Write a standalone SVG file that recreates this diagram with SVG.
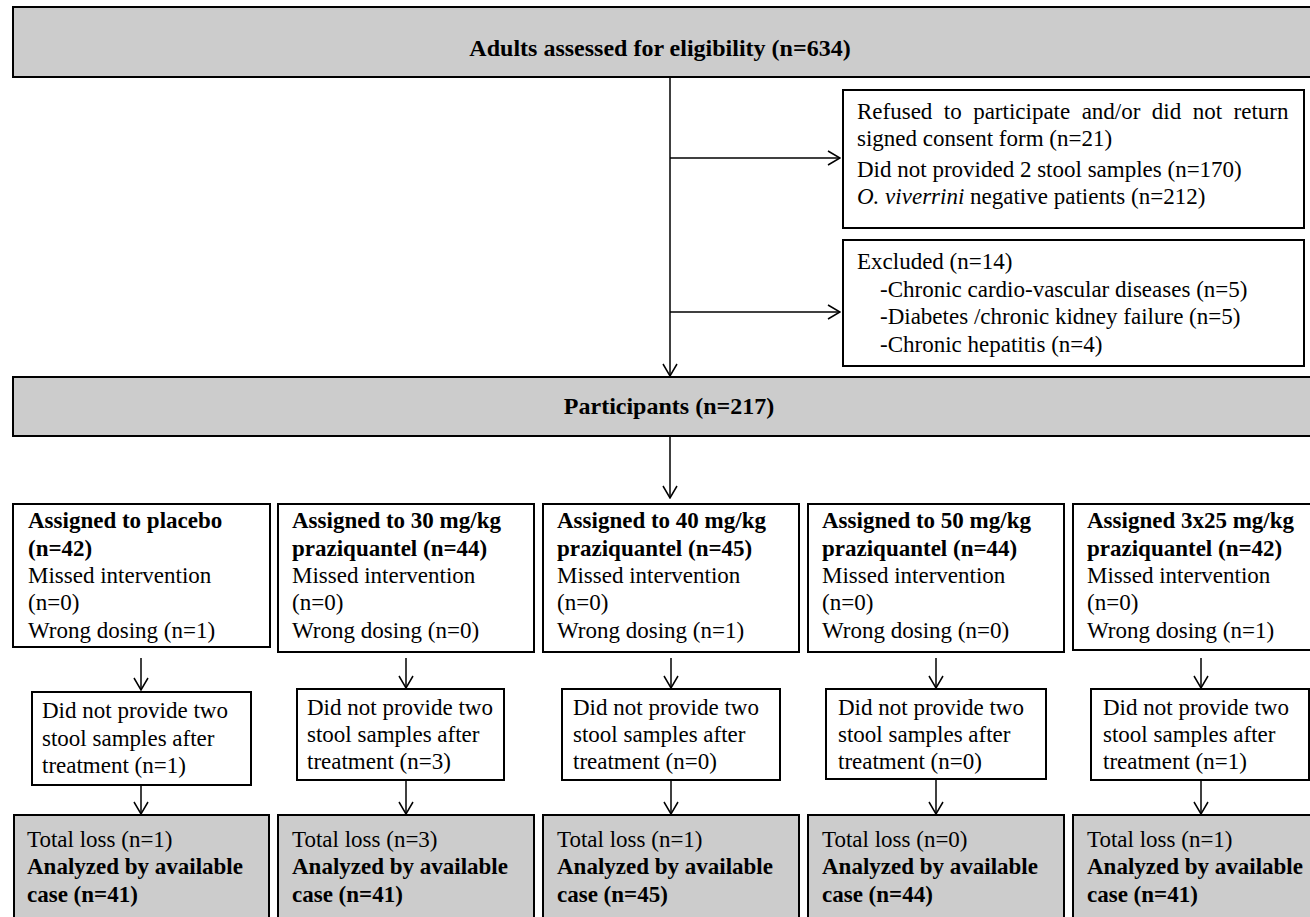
<svg xmlns="http://www.w3.org/2000/svg" width="1310" height="917" viewBox="0 0 1310 917">
<defs>
<style>
.box{fill:#ffffff;stroke:#000;stroke-width:2}
.gbox{fill:#cccccc;stroke:#000;stroke-width:2}
text{font-family:"Liberation Serif","Times New Roman",serif;font-size:23px;fill:#000}
.b{font-weight:bold}
.c{text-anchor:middle}
.h{font-size:24px}
.ln{stroke:#000;stroke-width:1.5;fill:none}
</style>
<marker id="ah" viewBox="0 0 14 16" refX="13" refY="8" markerWidth="14" markerHeight="16" markerUnits="userSpaceOnUse" orient="auto">
<path d="M1,1 L13,8 L1,15" fill="none" stroke="#000" stroke-width="1.5"/>
</marker>
</defs>
<rect width="1310" height="917" fill="#ffffff"/>

<g id="connectors">
<line class="ln" x1="670" y1="77" x2="670" y2="376" marker-end="url(#ah)"/>
<line class="ln" x1="670" y1="158" x2="840" y2="158" marker-end="url(#ah)"/>
<line class="ln" x1="670" y1="312" x2="840" y2="312" marker-end="url(#ah)"/>
<line class="ln" x1="670" y1="437" x2="670" y2="498" marker-end="url(#ah)"/>
<line class="ln" x1="141" y1="658" x2="141" y2="690" marker-end="url(#ah)"/>
<line class="ln" x1="406" y1="658" x2="406" y2="688" marker-end="url(#ah)"/>
<line class="ln" x1="671" y1="658" x2="671" y2="688" marker-end="url(#ah)"/>
<line class="ln" x1="936" y1="658" x2="936" y2="688" marker-end="url(#ah)"/>
<line class="ln" x1="1201" y1="658" x2="1201" y2="688" marker-end="url(#ah)"/>
<line class="ln" x1="141" y1="785" x2="141" y2="814" marker-end="url(#ah)"/>
<line class="ln" x1="406" y1="780" x2="406" y2="814" marker-end="url(#ah)"/>
<line class="ln" x1="671" y1="780" x2="671" y2="814" marker-end="url(#ah)"/>
<line class="ln" x1="936" y1="779" x2="936" y2="814" marker-end="url(#ah)"/>
<line class="ln" x1="1201" y1="780" x2="1201" y2="814" marker-end="url(#ah)"/>
</g>

<g id="n-assessed">
<rect class="gbox" x="13" y="7" width="1310" height="70"/>
<text class="b c h" x="660" y="56">Adults assessed for eligibility (n=634)</text>
</g>

<g id="n-refused">
<rect class="box" x="843" y="90" width="461" height="138"/>
<text x="857" y="119" word-spacing="5.7">Refused to participate and/or did not return</text>
<text x="857" y="146">signed consent form (n=21)</text>
<text x="857" y="177">Did not provided 2 stool samples (n=170)</text>
<text x="857" y="204"><tspan font-style="italic">O. viverrini</tspan> negative patients (n=212)</text>
</g>

<g id="n-excluded">
<rect class="box" x="843" y="240" width="461" height="126"/>
<text x="857" y="269">Excluded (n=14)</text>
<text x="880" y="297">-Chronic cardio-vascular diseases (n=5)</text>
<text x="880" y="324">-Diabetes /chronic kidney failure (n=5)</text>
<text x="880" y="352">-Chronic hepatitis (n=4)</text>
</g>

<g id="n-participants">
<rect class="gbox" x="13" y="377" width="1310" height="59"/>
<text class="b c h" x="669" y="414">Participants (n=217)</text>
</g>

<g id="n-a1">
<rect class="box" x="13" y="504" width="257" height="143"/>
<text class="b" x="28" y="528">Assigned to placebo</text>
<text class="b" x="28" y="556">(n=42)</text>
<text x="28" y="583">Missed intervention</text>
<text x="28" y="610">(n=0)</text>
<text x="28" y="638">Wrong dosing (n=1)</text>
</g>
<g id="n-a2">
<rect class="box" x="278" y="504" width="256" height="148"/>
<text class="b" x="292" y="528">Assigned to 30 mg/kg</text>
<text class="b" x="292" y="556">praziquantel (n=44)</text>
<text x="292" y="583">Missed intervention</text>
<text x="292" y="610">(n=0)</text>
<text x="292" y="638">Wrong dosing (n=0)</text>
</g>
<g id="n-a3">
<rect class="box" x="543" y="504" width="256" height="148"/>
<text class="b" x="557" y="528">Assigned to 40 mg/kg</text>
<text class="b" x="557" y="556">praziquantel (n=45)</text>
<text x="557" y="583">Missed intervention</text>
<text x="557" y="610">(n=0)</text>
<text x="557" y="638">Wrong dosing (n=1)</text>
</g>
<g id="n-a4">
<rect class="box" x="808" y="504" width="256" height="148"/>
<text class="b" x="822" y="528">Assigned to 50 mg/kg</text>
<text class="b" x="822" y="556">praziquantel (n=44)</text>
<text x="822" y="583">Missed intervention</text>
<text x="822" y="610">(n=0)</text>
<text x="822" y="638">Wrong dosing (n=0)</text>
</g>
<g id="n-a5">
<rect class="box" x="1073" y="504" width="250" height="146"/>
<text class="b" x="1087" y="528">Assigned 3x25 mg/kg</text>
<text class="b" x="1087" y="556">praziquantel (n=42)</text>
<text x="1087" y="583">Missed intervention</text>
<text x="1087" y="610">(n=0)</text>
<text x="1087" y="638">Wrong dosing (n=1)</text>
</g>

<g id="n-s1">
<rect class="box" x="32" y="692" width="219" height="93"/>
<text x="42" y="718">Did not provide two</text>
<text x="42" y="746">stool samples after</text>
<text x="42" y="773">treatment (n=1)</text>
</g>
<g id="n-s2">
<rect class="box" x="297" y="689" width="207" height="91"/>
<text x="307" y="715">Did not provide two</text>
<text x="307" y="742">stool samples after</text>
<text x="307" y="769">treatment (n=3)</text>
</g>
<g id="n-s3">
<rect class="box" x="562" y="689" width="218" height="91"/>
<text x="573" y="715">Did not provide two</text>
<text x="573" y="742">stool samples after</text>
<text x="573" y="769">treatment (n=0)</text>
</g>
<g id="n-s4">
<rect class="box" x="826" y="689" width="220" height="90"/>
<text x="838" y="715">Did not provide two</text>
<text x="838" y="742">stool samples after</text>
<text x="838" y="769">treatment (n=0)</text>
</g>
<g id="n-s5">
<rect class="box" x="1091" y="689" width="218" height="91"/>
<text x="1103" y="715">Did not provide two</text>
<text x="1103" y="742">stool samples after</text>
<text x="1103" y="769">treatment (n=1)</text>
</g>

<g id="n-t1">
<rect class="gbox" x="14" y="815" width="255" height="120"/>
<text x="27" y="847">Total loss (n=1)</text>
<text class="b" x="27" y="874">Analyzed by available</text>
<text class="b" x="27" y="902">case (n=41)</text>
</g>
<g id="n-t2">
<rect class="gbox" x="278" y="815" width="256" height="120"/>
<text x="292" y="847">Total loss (n=3)</text>
<text class="b" x="292" y="874">Analyzed by available</text>
<text class="b" x="292" y="902">case (n=41)</text>
</g>
<g id="n-t3">
<rect class="gbox" x="543" y="815" width="256" height="120"/>
<text x="557" y="847">Total loss (n=1)</text>
<text class="b" x="557" y="874">Analyzed by available</text>
<text class="b" x="557" y="902">case (n=45)</text>
</g>
<g id="n-t4">
<rect class="gbox" x="808" y="815" width="256" height="120"/>
<text x="822" y="847">Total loss (n=0)</text>
<text class="b" x="822" y="874">Analyzed by available</text>
<text class="b" x="822" y="902">case (n=44)</text>
</g>
<g id="n-t5">
<rect class="gbox" x="1073" y="815" width="250" height="120"/>
<text x="1087" y="847">Total loss (n=1)</text>
<text class="b" x="1087" y="874">Analyzed by available</text>
<text class="b" x="1087" y="902">case (n=41)</text>
</g>
</svg>
